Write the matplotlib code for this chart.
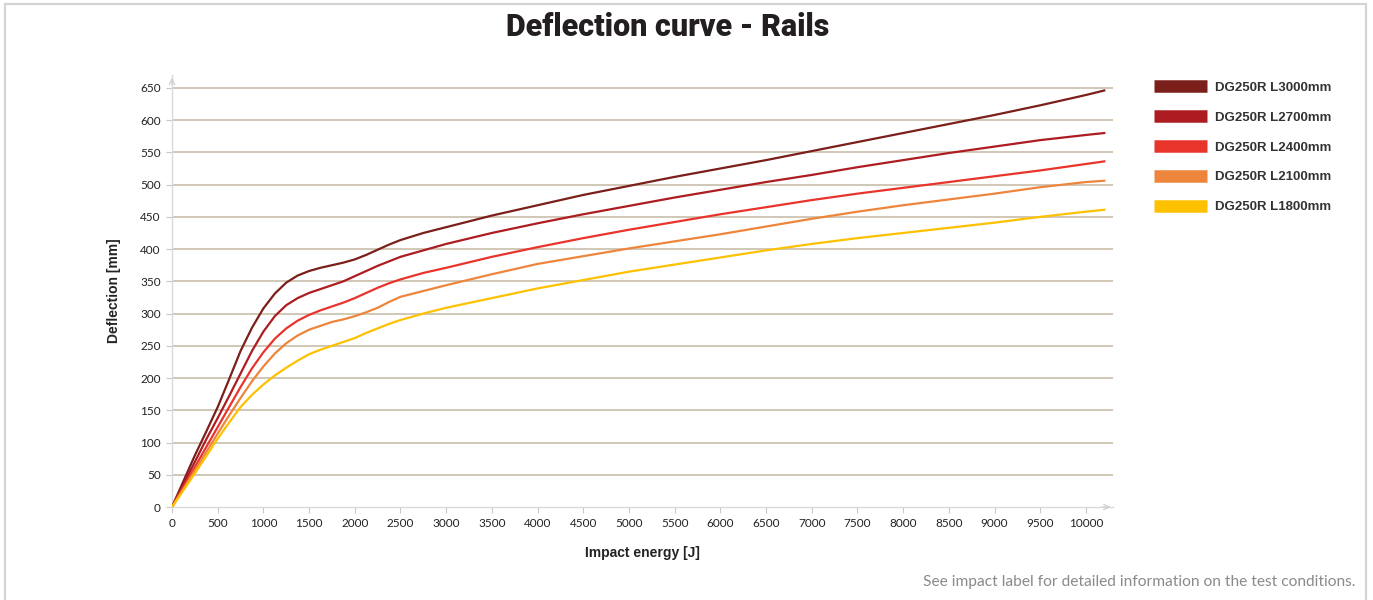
import matplotlib
matplotlib.use("Agg")
import matplotlib.pyplot as plt
from matplotlib.patches import Rectangle

energy = [0, 125, 250, 375, 500, 625, 750, 875, 1000, 1125, 1250, 1375, 1500,
          1625, 1750, 1875, 2000, 2125, 2250, 2375, 2500, 2750, 3000,
          3500, 4000, 4500, 5000, 5500, 6000, 6500, 7000, 7500, 8000, 8500, 9000,
          9500, 10000, 10200]

l3000 = [0, 40, 80, 117, 155, 198, 242, 278, 308, 331, 348, 359, 366,
         371, 375, 379, 384, 391, 399, 407, 414, 425, 434,
         452, 468, 484, 498, 512, 525, 538, 552, 566, 580, 594, 608,
         623, 639, 646]
l2700 = [0, 35, 70, 105, 138, 172, 207, 242, 272, 296, 313, 324, 332,
         338, 344, 350, 358, 366, 374, 381, 388, 398, 408,
         425, 440, 454, 467, 480, 492, 504, 515, 527, 538, 549, 559,
         569, 577, 580]
l2400 = [0, 31, 62, 93, 124, 155, 186, 215, 240, 261, 277, 289, 298,
         305, 311, 317, 324, 332, 340, 347, 353, 363, 371,
         388, 403, 417, 430, 442, 454, 465, 476, 486, 495, 504, 513,
         522, 532, 536]
l2100 = [0, 28, 57, 85, 114, 142, 169, 195, 218, 238, 254, 266, 275,
         281, 287, 291, 296, 302, 309, 318, 326, 335, 344,
         361, 377, 389, 401, 412, 423, 435, 447, 458, 468, 477, 486,
         496, 504, 506]
l1800 = [0, 26, 52, 79, 106, 131, 155, 174, 190, 204, 216, 227, 237,
         244, 250, 256, 262, 270, 277, 284, 290, 300, 309,
         324, 339, 352, 365, 376, 387, 398, 408, 417, 425, 433, 441,
         450, 458, 461]

series_labels = ["DG250R L3000mm", "DG250R L2700mm", "DG250R L2400mm",
                 "DG250R L2100mm", "DG250R L1800mm"]
series_values = [l3000, l2700, l2400, l2100, l1800]
colors = ["#7a1f1a", "#ad1c20", "#e9342c", "#ee853c", "#fdc100"]

x_ticks = list(range(0, 10001, 500))
y_ticks = list(range(0, 651, 50))

fig = plt.figure(figsize=(13.73, 6.0), dpi=100)
fig.patch.set_facecolor("white")

# outer frame
fig.add_artist(Rectangle((5 / 1373, -0.05), 1361 / 1373, 1.05 - 4 / 600,
                         transform=fig.transFigure, fill=False,
                         edgecolor="#d4d4d4", linewidth=1.6))

ax_left = 172 / 1373
ax_bottom = 1 - 507 / 600
ax_w = 941.4 / 1373
ax_h = 432 / 600
ax = fig.add_axes([ax_left, ax_bottom, ax_w, ax_h])
ax.set_xlim(0, 10300)
ax.set_ylim(0, 670)

for yv in y_ticks[1:]:
    ax.axhline(yv, color="#c8bda9", linewidth=1.2, zorder=1)

lines = []
for vals, lab, c in zip(series_values, series_labels, colors):
    ln, = ax.plot(energy, vals, color=c, linewidth=1.6, label=lab, zorder=3,
                  solid_joinstyle="round", antialiased=True)
    lines.append(ln)

for s in ["top", "right"]:
    ax.spines[s].set_visible(False)
for s in ["left", "bottom"]:
    ax.spines[s].set_color("#d9d9d9")
    ax.spines[s].set_linewidth(1.0)

ax.annotate("", xy=(1.0, 0), xytext=(0.985, 0), xycoords="axes fraction",
            arrowprops=dict(arrowstyle="->", color="#d0d0d0", lw=0.9))
ax.annotate("", xy=(0, 1.0), xytext=(0, 0.97), xycoords="axes fraction",
            arrowprops=dict(arrowstyle="->", color="#d0d0d0", lw=0.9))

ax.set_xticks(x_ticks)
ax.set_xticklabels([str(v) for v in x_ticks])
ax.set_yticks(y_ticks)
ax.set_yticklabels([str(v) for v in y_ticks])
ax.tick_params(axis="both", colors="#c8c8c8", labelcolor="#222222",
               length=4, width=0.8, labelsize=8.5, pad=4)
for t in ax.get_xticklabels() + ax.get_yticklabels():
    t.set_family(["Lato", "DejaVu Sans"])

ax.set_xlabel("Impact energy [J]", fontsize=10, fontweight="bold",
              family=["Liberation Sans", "DejaVu Sans"], color="#222222",
              labelpad=12)
ax.set_ylabel("Deflection [mm]", fontsize=10, fontweight="bold",
              family=["Liberation Sans", "DejaVu Sans"], color="#222222",
              labelpad=14)

fig.text(668 / 1373, 1 - 27 / 600, "Deflection curve - Rails", ha="center",
         va="center", fontsize=22, fontweight=900, color="#231f20",
         family=["Roboto", "DejaVu Sans"])

leg = fig.legend(handles=lines, labels=series_labels,
                 loc="upper left", bbox_to_anchor=(1142 / 1373, 1 - 70 / 600),
                 frameon=False, handlelength=4.0, handleheight=0.7,
                 labelspacing=1.33, handletextpad=0.6,
                 prop=dict(family=["Liberation Sans", "DejaVu Sans"],
                           weight="bold", size=9.5))
for h in leg.legend_handles:
    h.set_linewidth(9)
    h.set_solid_capstyle("butt")
for t in leg.get_texts():
    t.set_color("#333333")

fig.text(1355 / 1373, 1 - 582 / 600,
         "See impact label for detailed information on the test conditions.",
         ha="right", va="center", fontsize=11.2, color="#8a8a8a",
         family=["Lato", "DejaVu Sans"])

fig.savefig("out.png", dpi=100)
